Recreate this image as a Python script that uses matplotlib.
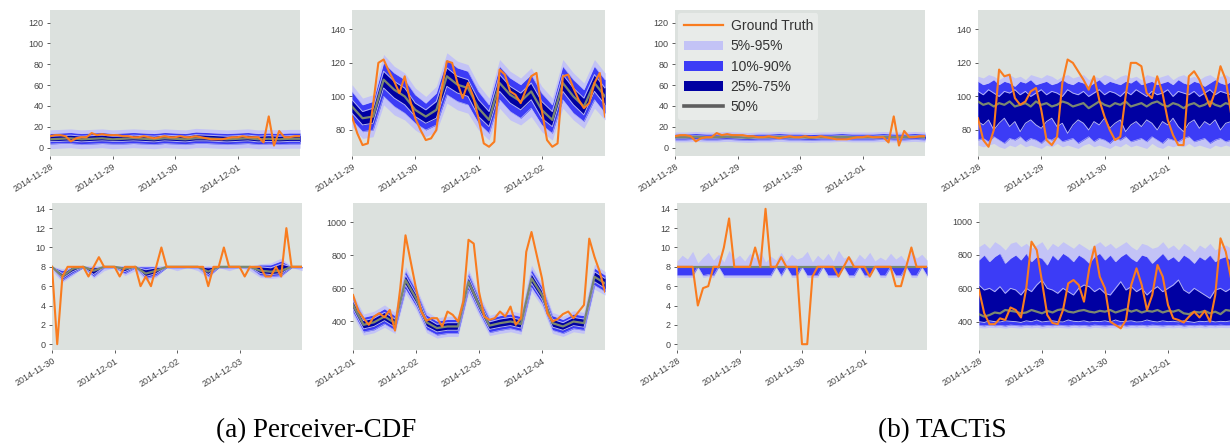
import numpy as np
import matplotlib
matplotlib.use("Agg")
import matplotlib.pyplot as plt
import matplotlib.dates as mdates
from matplotlib.lines import Line2D
from matplotlib.patches import Patch

# ---------------- data ----------------
legend_labels = ["Ground Truth", "5%-95%", "10%-90%", "25%-75%", "50%"]
captions = ["(a) Perceiver-CDF", "(b) TACTiS"]

# series 1 (top-left panels, both models) - 2 h steps over 4 days
gt_s1 = [11, 12, 12, 11, 6, 9, 10,
         10, 14, 12, 13, 12, 12, 12,
         11, 11, 10, 10, 11, 10, 9,
         10, 11, 10, 10, 11, 10, 10,
         11, 10, 9, 8, 8, 8, 9,
         10, 10, 11, 10, 10, 10, 5,
         30, 2, 16, 10, 10, 11, 11]

# Perceiver-CDF top-left quantiles (4 h steps)
atl_q05 = [-1, -0.5, 0, -1, -0.5, 0, -1, -0.5, 0, -0.5, -1, 0, -0.5, -1, 0, 0, -0.5, -1, -0.5, 0, -1, -0.5, -1, -0.5, -0.5]
atl_q10 = [3.5, 4, 4, 3, 3.5, 4, 3.5, 3.5, 4, 3.5, 3, 4, 3.5, 3, 4, 4, 3.5, 3, 3.5, 4, 3, 3.5, 3, 3.5, 3.5]
atl_q25 = [6, 6, 6.5, 5.5, 6, 6.5, 6, 6, 6.5, 6, 5.5, 6.5, 6, 5.5, 6.5, 6.5, 6, 5.5, 6, 6.5, 5.5, 6, 5.5, 6, 6]
atl_q50 = [8, 8.5, 9, 8, 8.5, 9, 8, 8.5, 9, 8.5, 8, 9, 8.5, 8, 9, 9, 8.5, 8, 8.5, 9, 8, 8.5, 8, 8.5, 8.5]
atl_q75 = [11, 11.5, 12, 11, 11.5, 12, 11, 11, 12, 11.5, 11, 12, 11.5, 11, 12.5, 12, 11.5, 11, 11.5, 12, 11, 11.5, 11, 11.5, 11.5]
atl_q90 = [13.5, 14, 14.5, 13.5, 14, 14.5, 13.5, 14, 14.5, 14, 13.5, 14.5, 14, 13.5, 15, 14.5, 14, 13.5, 14, 14.5, 13.5, 14, 13.5, 14, 14]
atl_q95 = [17, 17.5, 18, 17, 17.5, 18, 17, 17.5, 18, 17.5, 17, 18, 17.5, 17, 18.5, 18, 17.5, 17, 17.5, 18, 17, 17.5, 17, 17.5, 17.5]

# TACTiS top-left quantiles (4 h steps)
btl_q05 = [5.5, 5.5, 6, 5.5, 5.5, 6, 5.5, 5, 5.5, 5.5, 6, 5.5, 5.5, 5, 5.5, 5.5, 6, 5.5, 5.5, 5.5, 6, 5.5, 5.5, 6, 5.5]
btl_q10 = [7.5, 7.5, 8, 7.5, 7.5, 8, 7.5, 7, 7.5, 7.5, 8, 7.5, 7.5, 7, 7.5, 7.5, 8, 7.5, 7.5, 7.5, 8, 7.5, 7.5, 8, 7.5]
btl_q25 = [9, 9, 9.5, 9, 9, 9.5, 9, 8.5, 9, 9, 9.5, 9, 9, 8.5, 9, 9, 9.5, 9, 9, 9, 9.5, 9, 9, 9.5, 9]
btl_q50 = [10, 10, 10.5, 10, 10, 10.5, 10, 9.5, 10, 10, 10.5, 10, 10, 9.5, 10, 10, 10.5, 10, 10, 10, 10.5, 10, 10, 10.5, 10]
btl_q75 = [11, 11, 11.5, 11, 11, 11.5, 11, 10.5, 11, 11, 11.5, 11, 11, 10.5, 11, 11, 11.5, 11, 11, 11, 11.5, 11, 11, 11.5, 11]
btl_q90 = [13, 13, 13.5, 13, 13, 13.5, 13, 12.5, 13, 13, 13.5, 13, 13, 12.5, 13, 13, 13.5, 13, 13, 13, 13.5, 13, 13, 13.5, 13]
btl_q95 = [15, 15, 15.5, 15, 15, 15.5, 15, 14.5, 15, 15, 15.5, 15, 15, 14.5, 15, 15, 15.5, 15, 15, 15, 15.5, 15, 15, 15.5, 15]

# Perceiver-CDF top-right
atr_gt = [88, 78, 71, 72, 95, 120, 122,
          115, 109, 102, 112, 98, 87, 80,
          74, 75, 80, 104, 121, 120, 108,
          99, 108, 100, 87, 72, 70, 73,
          116, 113, 103, 101, 96, 104, 112,
          114, 92, 74, 70, 72, 112, 113,
          105, 98, 93, 96, 108, 114, 88]
atr_q05 = [82, 75, 76, 95, 89, 86, 80, 76, 79, 96, 92, 90, 80, 74, 93, 86, 83, 88, 79, 74, 93, 86, 81, 93, 86]
atr_q10 = [86, 79, 80, 100, 94, 90, 84, 80, 83, 101, 97, 95, 84, 78, 98, 91, 87, 93, 83, 78, 98, 90, 85, 98, 90]
atr_q25 = [90, 83, 84, 105, 99, 95, 88, 84, 87, 106, 102, 100, 88, 82, 103, 96, 92, 98, 87, 82, 103, 95, 89, 103, 95]
atr_q50 = [94, 87, 88, 110, 104, 100, 92, 88, 92, 112, 107, 105, 93, 86, 108, 101, 97, 103, 92, 86, 108, 100, 94, 108, 100]
atr_q75 = [98, 91, 93, 115, 109, 105, 96, 92, 97, 117, 112, 110, 98, 91, 113, 106, 102, 108, 97, 91, 113, 105, 99, 113, 105]
atr_q90 = [103, 95, 97, 120, 114, 110, 101, 96, 102, 122, 117, 115, 103, 95, 118, 111, 107, 113, 102, 95, 118, 110, 104, 118, 110]
atr_q95 = [107, 99, 101, 125, 118, 114, 105, 100, 106, 126, 121, 119, 107, 99, 122, 115, 111, 117, 106, 99, 122, 114, 108, 122, 114]

# Perceiver-CDF bottom-left
abl_gt = [8, 0, 7, 8, 8, 8, 8,
          7, 8, 9, 8, 8, 8, 7,
          8, 8, 8, 6, 7, 6, 8,
          10, 8, 8, 8, 8, 8, 8,
          8, 8, 6, 8, 8, 10, 8,
          8, 8, 7, 8, 8, 8, 7,
          7, 8, 7, 12, 8, 8, 8]
abl_q05 = [7.6, 6.4, 7.1, 7.95, 6.8, 7.6, 7.95, 7.1, 7.6, 6.6, 6.9, 7.95, 7.6, 7.95, 7.6, 6.8, 7.95, 7.6, 7.95, 7.6, 6.9, 6.8, 6.9, 7.95, 7.6]
abl_q10 = [7.9, 6.6, 7.3, 7.9, 7.0, 7.9, 7.9, 7.3, 7.9, 6.8, 7.1, 7.9, 7.9, 7.9, 7.9, 7.0, 7.9, 7.9, 7.9, 7.9, 7.1, 7.0, 7.1, 7.9, 7.9]
abl_q25 = [7.97, 6.8, 7.5, 7.97, 7.2, 7.97, 7.97, 7.5, 7.97, 7.0, 7.3, 7.97, 7.97, 7.97, 7.97, 7.2, 7.97, 7.97, 7.97, 7.97, 7.3, 7.2, 7.3, 7.97, 7.97]
abl_q50 = [8, 7, 7.8, 8, 7.6, 8, 8, 7.8, 8, 7.3, 7.6, 8, 8, 8, 8, 7.5, 8, 8, 8, 8, 7.6, 7.5, 7.6, 8, 8]
abl_q75 = [8, 7.3, 8, 8, 7.9, 8, 8, 8, 8, 7.7, 7.9, 8, 8, 8, 8, 7.9, 8, 8, 8, 8, 8, 7.9, 8.3, 8, 8]
abl_q90 = [8.02, 7.6, 8.02, 8.02, 8.02, 8.02, 8.02, 8.02, 8.02, 8.0, 8.02, 8.02, 8.02, 8.02, 8.02, 8.02, 8.02, 8.02, 8.02, 8.02, 8.2, 8.2, 8.6, 8.02, 8.02]
abl_q95 = [8.05, 7.8, 8.05, 8.05, 8.1, 8.05, 8.05, 8.1, 8.05, 8.1, 8.05, 8.05, 8.05, 8.05, 8.05, 8.1, 8.05, 8.05, 8.05, 8.05, 8.3, 8.4, 8.9, 8.05, 8.05]

# Perceiver-CDF bottom-right
abr_gt = [560, 465, 420, 380, 430, 450, 425,
          470, 345, 600, 920, 760, 600, 460,
          405, 420, 420, 370, 460, 440, 400,
          520, 893, 870, 580, 430, 410, 420,
          460, 430, 490, 380, 420, 820, 940,
          800, 660, 450, 400, 415, 445, 460,
          420, 460, 500, 900, 790, 700, 580]
abr_q05 = [435, 318, 332, 365, 328, 570, 472, 333, 300, 310, 310, 568, 435, 315, 328, 338, 323, 582, 490, 328, 310, 338, 328, 595, 560]
abr_q10 = [455, 337, 350, 385, 347, 595, 492, 352, 318, 328, 328, 590, 455, 333, 347, 357, 342, 605, 510, 347, 328, 357, 347, 618, 580]
abr_q25 = [475, 355, 370, 405, 365, 620, 512, 370, 337, 347, 347, 612, 474, 352, 365, 375, 360, 630, 532, 366, 347, 375, 365, 640, 600]
abr_q50 = [500, 380, 395, 430, 390, 650, 540, 395, 360, 370, 370, 640, 500, 375, 390, 400, 385, 660, 560, 390, 370, 400, 390, 670, 630]
abr_q75 = [525, 405, 420, 455, 415, 680, 568, 420, 383, 393, 393, 668, 526, 398, 415, 425, 410, 690, 588, 414, 393, 425, 415, 700, 660]
abr_q90 = [545, 425, 440, 477, 435, 705, 590, 440, 402, 412, 412, 692, 545, 417, 435, 445, 430, 715, 610, 435, 412, 445, 435, 722, 680]
abr_q95 = [565, 445, 462, 500, 455, 730, 612, 460, 422, 432, 432, 715, 565, 437, 455, 465, 450, 740, 632, 455, 432, 465, 455, 745, 702]

# TACTiS top-right (2 h steps)
btr_gt = [87, 74, 70, 80, 116, 112, 113,
          99, 95, 97, 103, 105, 92, 74,
          71, 76, 108, 122, 120, 115, 110,
          104, 112, 98, 88, 80, 74, 76,
          100, 120, 120, 118, 102, 99, 112,
          102, 86, 77, 71, 71, 112, 115,
          110, 102, 94, 103, 118, 110, 90]
btr_q05 = [71, 70, 71, 72, 70, 69, 71, 70, 72, 70, 71, 70, 69, 71, 70, 72, 70, 71, 70, 69, 71, 72, 70, 71, 70,
           69, 71, 70, 72, 70, 71, 70, 69, 72, 70, 69, 71, 70, 71, 70, 72, 70, 71, 70, 69, 71, 70, 71, 70]
btr_q10 = [74, 75, 73, 76, 74, 72, 75, 74, 76, 73, 75, 74, 72, 75, 74, 76, 73, 74, 75, 72, 74, 76, 73, 75, 74,
           72, 75, 74, 76, 73, 74, 75, 73, 76, 74, 72, 75, 74, 73, 75, 76, 73, 74, 75, 72, 74, 75, 73, 74]
btr_q25 = [85, 83, 86, 80, 84, 87, 82, 85, 79, 84, 86, 83, 81, 85, 87, 82, 84, 78, 83, 86, 84, 80, 85, 83, 87,
           81, 84, 86, 79, 83, 85, 82, 86, 84, 80, 85, 83, 87, 82, 79, 84, 86, 81, 85, 83, 86, 80, 84, 85]
btr_q50 = [97, 95, 96, 94, 96, 95, 97, 94, 95, 96, 94, 97, 95, 96, 94, 95, 97, 96, 94, 95, 96, 93, 95, 97, 95,
           94, 96, 95, 97, 94, 95, 96, 94, 96, 97, 95, 94, 96, 95, 93, 95, 96, 94, 95, 97, 95, 94, 96, 95]
btr_q75 = [103, 101, 104, 102, 100, 103, 102, 104, 101, 103, 100, 102, 104, 101, 103, 102, 100, 104, 102, 101, 103, 100, 102, 104, 101,
           103, 102, 100, 103, 101, 104, 102, 100, 103, 101, 102, 104, 100, 103, 102, 101, 103, 100, 102, 104, 101, 103, 102, 101]
btr_q90 = [109, 107, 108, 110, 107, 109, 108, 106, 109, 108, 110, 107, 108, 109, 107, 108, 110, 108, 107, 109, 108, 106, 108, 110, 107,
           109, 108, 107, 109, 108, 110, 107, 108, 109, 107, 108, 109, 107, 110, 108, 107, 109, 108, 106, 108, 110, 108, 107, 109]
btr_q95 = [112, 111, 113, 112, 110, 112, 113, 111, 112, 110, 113, 112, 111, 113, 112, 110, 112, 113, 111, 112, 113, 110, 112, 111, 113,
           112, 110, 112, 113, 111, 112, 110, 113, 112, 111, 112, 113, 110, 112, 113, 111, 112, 110, 112, 113, 111, 112, 113, 111]

# TACTiS bottom-left (2 h steps)
bbl_gt = [8, 8, 8, 8, 4, 5.8, 6,
          8, 8, 10, 13, 8, 8, 8,
          8, 10, 8, 14, 8, 8, 9,
          8, 8, 8, 0, 0, 7, 8,
          8, 8, 8, 7, 8, 9, 8,
          8, 8, 7, 8, 8, 8, 8,
          6, 6, 8, 10, 8, 8, 8]
bbl_q05 = [6.9, 6.9, 6.9, 6.9, 7.9, 6.9, 7.0,
           6.9, 7.9, 6.9, 6.9, 6.9, 6.9, 6.9,
           6.9, 6.9, 6.9, 6.9, 6.9, 7.9, 6.9,
           7.9, 6.9, 6.9, 7.9, 6.9, 6.9, 6.9,
           7.9, 6.9, 6.9, 6.9, 7.9, 6.9, 6.9,
           7.9, 6.9, 6.9, 7.9, 6.9, 6.9, 7.9,
           6.9, 6.9, 7.9, 6.9, 6.9, 7.9, 6.9]
bbl_q10 = [7.1, 7.1, 7.1, 7.1, 8.0, 7.1, 7.2,
           7.1, 8.0, 7.1, 7.1, 7.1, 7.1, 7.1,
           7.1, 7.1, 7.1, 7.1, 7.1, 8.0, 7.1,
           8.0, 7.1, 7.1, 8.0, 7.1, 7.1, 7.1,
           8.0, 7.1, 7.1, 7.1, 8.0, 7.1, 7.1,
           8.0, 7.1, 7.1, 8.0, 7.1, 7.1, 8.0,
           7.1, 7.1, 8.0, 7.1, 7.1, 8.0, 7.1]
bbl_q25 = [7.95, 7.95, 7.95, 7.95, 7.95, 7.95, 7.95,
           7.95, 7.95, 7.95, 7.95, 7.95, 7.95, 7.95,
           7.95, 7.95, 7.95, 7.95, 7.95, 7.95, 7.95,
           7.95, 7.95, 7.95, 7.95, 7.95, 7.95, 7.95,
           7.95, 7.95, 7.95, 7.95, 7.95, 7.95, 7.95,
           7.95, 7.95, 7.95, 7.95, 7.95, 7.95, 7.95,
           7.95, 7.95, 7.95, 7.95, 7.95, 7.95, 7.95]
bbl_q50 = [8, 8, 8, 8, 8, 8, 8,
           8, 8, 8, 8, 8, 8, 8,
           8, 8, 8, 8, 8, 8, 8,
           8, 8, 8, 8, 8, 8, 8,
           8, 8, 8, 8, 8, 8, 8,
           8, 8, 8, 8, 8, 8, 8,
           8, 8, 8, 8, 8, 8, 8]
bbl_q75 = [8.02, 8.02, 8.02, 8.02, 8.02, 8.02, 8.02,
           8.02, 8.02, 8.02, 8.02, 8.02, 8.02, 8.02,
           8.02, 8.02, 8.02, 8.02, 8.02, 8.02, 8.02,
           8.02, 8.02, 8.02, 8.02, 8.02, 8.02, 8.02,
           8.02, 8.02, 8.02, 8.02, 8.02, 8.02, 8.02,
           8.02, 8.02, 8.02, 8.02, 8.02, 8.02, 8.02,
           8.02, 8.02, 8.02, 8.02, 8.02, 8.02, 8.02]
bbl_q90 = [8.05, 8.05, 8.05, 8.05, 8.05, 8.05, 8.05,
           8.05, 8.05, 8.05, 8.05, 8.05, 8.05, 8.05,
           8.05, 8.05, 8.05, 8.05, 8.05, 8.05, 8.05,
           8.05, 8.05, 8.05, 8.05, 8.05, 8.05, 8.05,
           8.05, 8.05, 8.05, 8.05, 8.05, 8.05, 8.05,
           8.05, 8.05, 8.05, 8.05, 8.05, 8.05, 8.05,
           8.05, 8.05, 8.05, 8.05, 8.05, 8.05, 8.05]
bbl_q95 = [8.6, 9.2, 8.8, 9.6, 8.4, 9.0, 9.5,
           8.7, 9.3, 8.5, 9.7, 8.8, 9.2, 8.6,
           9.4, 8.9, 9.6, 8.5, 9.1, 8.7, 9.5,
           8.6, 9.3, 8.8, 9.0, 9.6, 8.5, 9.2,
           8.7, 9.4, 8.6, 9.7, 8.9, 9.1, 8.5,
           9.3, 8.8, 9.5, 8.6, 9.0, 8.7, 9.4,
           8.8, 9.2, 8.5, 9.6, 8.9, 9.3, 8.7]

# TACTiS bottom-right (2 h steps)
bbr_gt = [590, 450, 385, 385, 420, 410, 485,
          470, 425, 600, 880, 830, 640, 440,
          392, 385, 470, 630, 650, 620, 520,
          720, 850, 670, 600, 400, 380, 360,
          410, 620, 720, 620, 470, 560, 740,
          670, 500, 420, 410, 395, 430, 460,
          425, 465, 400, 560, 900, 820, 660]
bbr_q05 = [365, 362, 366, 364, 365, 361, 366,
           364, 362, 366, 363, 366, 361, 365,
           363, 366, 364, 362, 366, 363, 365,
           361, 366, 364, 362, 365, 363, 366,
           361, 365, 363, 366, 362, 366, 364,
           362, 365, 363, 366, 361, 365, 363,
           366, 362, 365, 363, 366, 364, 365]
bbr_q10 = [378, 375, 380, 376, 378, 374, 380,
           377, 375, 379, 376, 380, 374, 378,
           376, 380, 377, 375, 379, 376, 378,
           374, 380, 377, 375, 378, 376, 380,
           374, 378, 376, 379, 375, 380, 377,
           375, 378, 376, 380, 374, 378, 376,
           379, 375, 378, 376, 380, 377, 378]
bbr_q25 = [400, 395, 405, 400, 398, 405, 402,
           400, 395, 405, 400, 410, 398, 402,
           405, 400, 398, 410, 402, 400, 405,
           398, 402, 400, 405, 398, 410, 400,
           402, 405, 398, 400, 410, 402, 398,
           405, 400, 402, 398, 405, 400, 395,
           402, 400, 405, 398, 402, 400, 405]
bbr_q50 = [445, 430, 440, 455, 450, 470, 465,
           460, 450, 455, 470, 460, 450, 465,
           455, 470, 475, 460, 455, 465, 470,
           460, 455, 465, 460, 470, 455, 465,
           475, 460, 470, 455, 465, 460, 470,
           455, 465, 460, 470, 450, 445, 460,
           455, 465, 450, 460, 445, 470, 465]
bbr_q75 = [620, 590, 600, 580, 610, 570, 600,
           590, 560, 600, 580, 620, 650, 600,
           590, 570, 600, 580, 560, 600, 620,
           610, 580, 600, 570, 560, 600, 640,
           590, 610, 580, 600, 560, 590, 610,
           580, 600, 620, 650, 590, 570, 600,
           580, 560, 540, 590, 600, 580, 600]
bbr_q90 = [770, 800, 760, 790, 810, 750, 780,
           800, 770, 810, 760, 790, 780, 740,
           800, 770, 810, 790, 760, 800, 780,
           750, 790, 810, 770, 800, 760, 790,
           810, 780, 760, 800, 790, 750, 780,
           810, 770, 790, 760, 800, 780, 750,
           790, 770, 800, 760, 780, 790, 770]
bbr_q95 = [850, 870, 840, 880, 860, 830, 870,
           880, 850, 870, 840, 860, 880, 830,
           870, 850, 880, 860, 840, 870, 850,
           830, 860, 880, 850, 870, 840, 860,
           880, 850, 830, 870, 860, 840, 850,
           880, 840, 860, 830, 870, 850, 820,
           860, 840, 870, 830, 850, 860, 840]

# window start dates
start_atl, start_atr, start_abl, start_abr = "2014-11-28", "2014-11-29", "2014-11-30", "2014-12-01"
start_btl, start_btr, start_bbl, start_bbr = "2014-11-28", "2014-11-28", "2014-11-28", "2014-11-28"

yt_small = [0, 20, 40, 60, 80, 100, 120]
yt_mid = [80, 100, 120, 140]
yt_tiny = [0, 2, 4, 6, 8, 10, 12, 14]
yt_big = [400, 600, 800, 1000]

# ---------------- style ----------------
BG = "#dce1de"
C95 = "#c3c3f6"
C90 = "#3c3cf6"
C75 = "#0000a2"
MED = "#7b8870"
GTC = "#f97c1f"
EDGE = "#b4b4f2"

plt.rcParams["font.family"] = ["Liberation Sans", "DejaVu Sans"]

W, H = 1230, 445
fig = plt.figure(figsize=(W / 100, H / 100), dpi=100)


def add_ax(l, r, t, b):
    return fig.add_axes([l / W, 1 - b / H, (r - l) / W, (b - t) / H])


def times(start, n):
    t0 = np.datetime64(start + "T00:00")
    return t0 + (np.linspace(0, 96, n) * 60).astype("timedelta64[m]")


def draw(ax, start, gt, q, ylim, yticks):
    ax.set_facecolor(BG)
    tq = times(start, len(q[3]))
    ax.fill_between(tq, q[0], q[6], color=C95, lw=0)
    ax.fill_between(tq, q[1], q[5], color=C90, lw=0)
    ax.fill_between(tq, q[2], q[4], color=C75, lw=0)
    ax.plot(tq, q[1], color=C95, lw=0.5, alpha=0.8)
    ax.plot(tq, q[5], color=C95, lw=0.5, alpha=0.8)
    ax.plot(tq, q[2], color=EDGE, lw=0.7)
    ax.plot(tq, q[4], color=EDGE, lw=0.7)
    ax.plot(tq, q[3], color=MED, lw=1.6)
    tg = times(start, len(gt))
    ax.plot(tg, gt, color=GTC, lw=1.5)
    t0 = np.datetime64(start + "T00:00")
    ax.set_xlim(t0, t0 + np.timedelta64(96, "h"))
    ax.set_ylim(*ylim)
    ax.set_yticks(yticks)
    ax.set_xticks([t0 + np.timedelta64(24 * k, "h") for k in range(4)])
    ax.xaxis.set_major_formatter(mdates.DateFormatter("%Y-%m-%d"))
    for s in ax.spines.values():
        s.set_visible(False)
    ax.tick_params(axis="both", labelsize=6.5, colors="#444444", length=2.5, width=0.6, pad=2)
    for lab in ax.get_xticklabels():
        lab.set_rotation(32)
        lab.set_ha("right")
        lab.set_rotation_mode("anchor")


TOP = (10, 156)
BOT = (203, 350)

ax = add_ax(50, 300, *TOP)
draw(ax, start_atl, gt_s1, [atl_q05, atl_q10, atl_q25, atl_q50, atl_q75, atl_q90, atl_q95], (-8, 132), yt_small)
ax = add_ax(352, 605, *TOP)
draw(ax, start_atr, atr_gt, [atr_q05, atr_q10, atr_q25, atr_q50, atr_q75, atr_q90, atr_q95], (64.5, 151.5), yt_mid)
ax = add_ax(52, 302, *BOT)
draw(ax, start_abl, abl_gt, [abl_q05, abl_q10, abl_q25, abl_q50, abl_q75, abl_q90, abl_q95], (-0.6, 14.6), yt_tiny)
ax = add_ax(353, 605, *BOT)
draw(ax, start_abr, abr_gt, [abr_q05, abr_q10, abr_q25, abr_q50, abr_q75, abr_q90, abr_q95], (228, 1115), yt_big)

axl = add_ax(675, 925, *TOP)
draw(axl, start_btl, gt_s1, [btl_q05, btl_q10, btl_q25, btl_q50, btl_q75, btl_q90, btl_q95], (-8, 132), yt_small)
ax = add_ax(978, 1231, *TOP)
draw(ax, start_btr, btr_gt, [btr_q05, btr_q10, btr_q25, btr_q50, btr_q75, btr_q90, btr_q95], (64.5, 151.5), yt_mid)
ax = add_ax(677, 927, *BOT)
draw(ax, start_bbl, bbl_gt, [bbl_q05, bbl_q10, bbl_q25, bbl_q50, bbl_q75, bbl_q90, bbl_q95], (-0.6, 14.6), yt_tiny)
ax = add_ax(979, 1231, *BOT)
draw(ax, start_bbr, bbr_gt, [bbr_q05, bbr_q10, bbr_q25, bbr_q50, bbr_q75, bbr_q90, bbr_q95], (230, 1112), yt_big)

handles = [Line2D([], [], color=GTC, lw=1.6),
           Patch(facecolor=C95, edgecolor="none"),
           Patch(facecolor=C90, edgecolor="none"),
           Patch(facecolor=C75, edgecolor="none"),
           Line2D([], [], color="#5e5e5e", lw=2.6)]
leg = axl.legend(handles, legend_labels, loc="upper left", bbox_to_anchor=(0.0, 1.0),
                 fontsize=10, frameon=True, framealpha=0.55, facecolor="#f2f4f3",
                 edgecolor="none", handlelength=2.8, handleheight=0.7, labelspacing=0.45,
                 handletextpad=0.55, borderaxespad=0.25, borderpad=0.4)
for t in leg.get_texts():
    t.set_color("#333333")

fig.text(316 / W, 1 - 431 / H, captions[0], family=["Liberation Serif", "DejaVu Serif"],
         fontsize=19.5, ha="center", va="center")
fig.text(942 / W, 1 - 431 / H, captions[1], family=["Liberation Serif", "DejaVu Serif"],
         fontsize=19.5, ha="center", va="center")

fig.savefig("out.png", dpi=100, facecolor="white")
